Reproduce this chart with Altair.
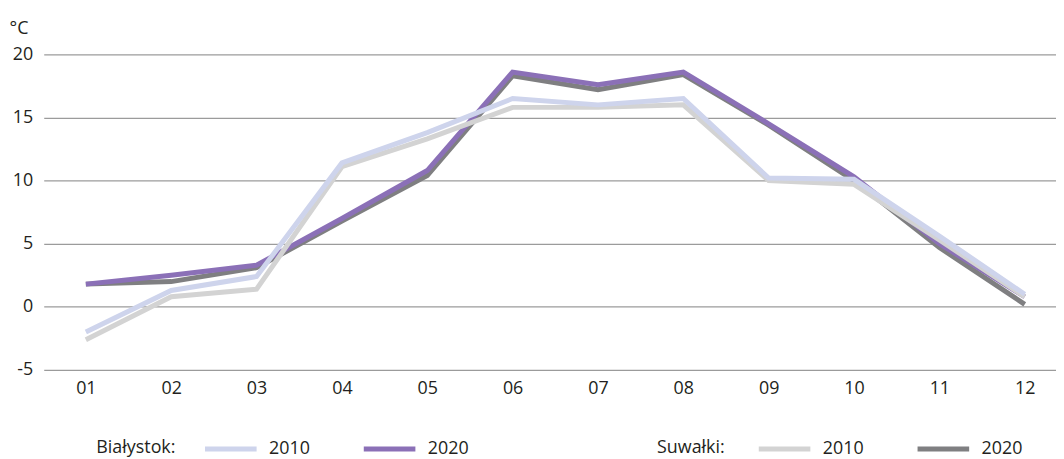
import altair as alt
import pandas as pd

months = ["01", "02", "03", "04", "05", "06", "07", "08", "09", "10", "11", "12"]

bialystok_2010 = [-2.0, 1.3, 2.4, 11.4, 13.8, 16.5, 16.0, 16.5, 10.2, 10.1, 5.6, 1.0]
bialystok_2020 = [1.8, 2.5, 3.3, 7.0, 10.8, 18.6, 17.6, 18.6, 14.5, 10.3, 5.0, 0.8]
suwalki_2010 = [-2.6, 0.8, 1.4, 11.1, 13.3, 15.8, 15.8, 16.0, 10.0, 9.7, 5.3, 0.8]
suwalki_2020 = [1.8, 2.0, 3.1, 6.8, 10.4, 18.3, 17.2, 18.4, 14.4, 10.0, 4.7, 0.2]

series_keys = ["B2010", "B2020", "S2010", "S2020"]
series_values = [bialystok_2010, bialystok_2020, suwalki_2010, suwalki_2020]

rows = []
for key, vals in zip(series_keys, series_values):
    for m, v in zip(months, vals):
        rows.append({"month": m, "series": key, "value": v})
df = pd.DataFrame(rows)

FONT = "Open Sans"
TXT = "#231f20"

x_enc = alt.X(
    "month:O",
    sort=months,
    scale=alt.Scale(type="point", padding=0.43, align=0.574),
    axis=alt.Axis(title=None, labelAngle=0, domain=False, ticks=False, grid=False, labelPadding=10),
)
y_enc = alt.Y(
    "value:Q",
    scale=alt.Scale(domain=[-5, 20], nice=False, zero=False),
    axis=alt.Axis(
        values=[-5, 0, 5, 10, 15, 20],
        labelExpr="toString(datum.value)",
        title="°C",
        titleAngle=0,
        titleX=-35,
        titleY=-21,
        titleAlign="left",
        titleBaseline="alphabetic",
        domain=False,
        ticks=False,
        labelPadding=11,
        gridColor="#9b9b9b",
        gridWidth=1.3,
    ),
)

common_legend = dict(
    orient="none",
    direction="horizontal",
    titleOrient="left",
    titleBaseline="top",
    symbolType="stroke",
    symbolSize=2704,
    symbolStrokeWidth=5,
    labelExpr="slice(datum.label, 1)",
    labelOffset=10,
    columnPadding=43,
    labelFont=FONT,
    labelFontSize=18,
    labelColor=TXT,
    labelBaseline="middle",
    titleFont=FONT,
    titleFontSize=18,
    titleFontWeight="normal",
    titleColor=TXT,
)

color_enc = alt.Color(
    "series:N",
    scale=alt.Scale(domain=["B2010", "B2020"], range=["#ced4ec", "#8b70b7"]),
    legend=alt.Legend(title="Białystok:", legendX=53, legendY=369, titlePadding=27, **common_legend),
)
stroke_enc = alt.Stroke(
    "series:N",
    scale=alt.Scale(domain=["S2010", "S2020"], range=["#d3d3d3", "#7f7f81"]),
    legend=alt.Legend(title="Suwałki:", legendX=618, legendY=369, titlePadding=31, **common_legend),
)

base = alt.Chart(df).mark_line(strokeWidth=5, strokeJoin="miter").encode(x=x_enc, y=y_enc)

l1 = base.transform_filter(alt.datum.series == "S2020").encode(stroke=stroke_enc)
l2 = base.transform_filter(alt.datum.series == "B2020").encode(color=color_enc)
l3 = base.transform_filter(alt.datum.series == "S2010").encode(stroke=stroke_enc)
l4 = base.transform_filter(alt.datum.series == "B2010").encode(color=color_enc)

chart = (
    alt.layer(l1, l2, l3, l4)
    .properties(
        width=1020,
        height=318,
        autosize=alt.AutoSizeParams(type="none"),
        padding={"left": 36, "top": 45, "right": 0, "bottom": 88},
        background="white",
    )
    .configure_view(stroke=None)
    .configure_axis(
        labelFont=FONT,
        labelFontSize=18,
        labelColor=TXT,
        titleFont=FONT,
        titleFontSize=18,
        titleFontWeight="normal",
        titleColor=TXT,
    )
)

chart.save("out.html", embed_options={"renderer": "svg", "actions": False})
